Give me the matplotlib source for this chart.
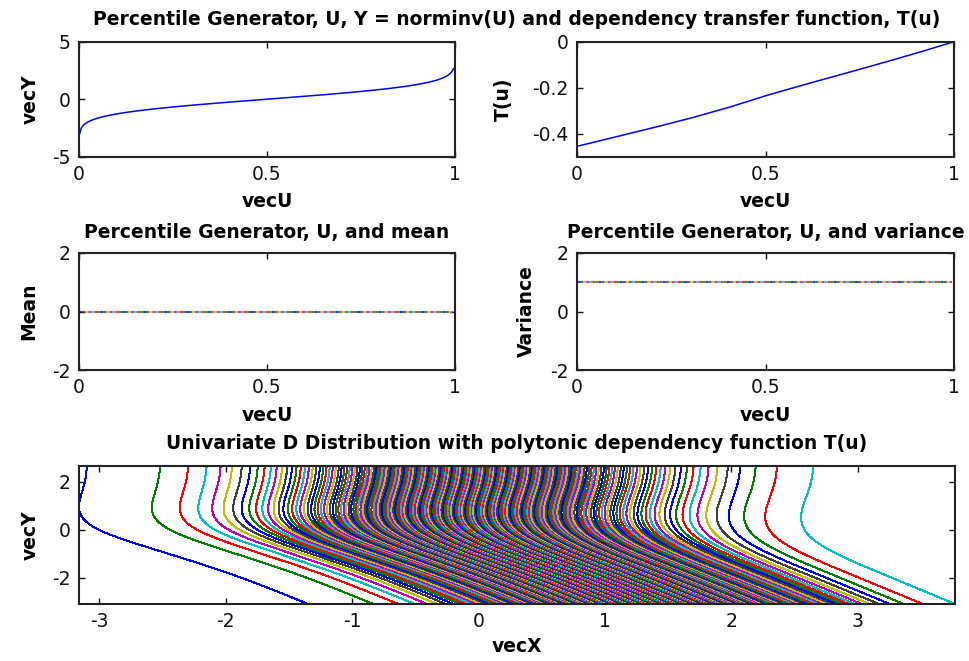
import numpy as np
import matplotlib.pyplot as plt
from statistics import NormalDist

plt.rcParams["font.family"] = "DejaVu Sans"
plt.rcParams["axes.unicode_minus"] = False
plt.rcParams["lines.scale_dashes"] = False

# percentile generator U: 0.001, 0.006, ..., 0.996 (200 levels)
u_start = 0.001
u_step = 0.005
n_levels = 200

# dependency transfer function T(u)
t_knots_u = [0.0, 0.1, 0.2, 0.3, 0.4, 0.5, 0.6, 0.7, 0.8, 0.9, 1.0]
t_knots_val = [-0.455, -0.415, -0.375, -0.333, -0.287, -0.235, -0.188, -0.143, -0.097, -0.050, 0.0]

# mean / variance of the distribution at every U
mean_level = 0.0
variance_level = 1.0

# old matlab colour order
matlab_colors = ["#0000ff", "#008000", "#ff0000", "#00bfbf", "#bf00bf", "#bfbf00", "#404040"]

vecU = u_start + u_step * np.arange(n_levels)
nd = NormalDist()
vecY = np.array([nd.inv_cdf(u) for u in vecU])
vecT = np.interp(vecU, t_knots_u, t_knots_val)

# column i = curve for percentile level i, rows follow vecY
T = vecT[:, None]
vecX = T * vecY[:, None] + np.sqrt(1 - T ** 2) * vecY[None, :]

W, H = 969, 661
fig = plt.figure(figsize=(W / 100, H / 100), dpi=100)
fig.patch.set_facecolor("white")

TS = 13.5  # title / label size
KS = 13.5  # tick label size


def box(l, t, r, b):
    return [l / W, 1 - b / H, (r - l) / W, (b - t) / H]


def style(ax):
    ax.tick_params(direction="in", top=True, right=True, length=4, width=1,
                   labelsize=KS, pad=6, colors="#111111")
    for s in ax.spines.values():
        s.set_linewidth(1.5)
        s.set_color("#222222")


def fmt(v):
    return "%g" % v


ax1 = fig.add_axes(box(79, 41.7, 455, 156.7))
ax2 = fig.add_axes(box(577, 41.7, 954, 156.7))
ax3 = fig.add_axes(box(79, 253, 455, 370))
ax4 = fig.add_axes(box(577, 253, 954, 370))
ax5 = fig.add_axes(box(79, 466, 955, 604))

# top left: Y = norminv(U)
ax1.plot(vecU, vecY, color="#0000ff", lw=1.1)
ax1.set_xlim(0, 1)
ax1.set_ylim(-5, 5)
ax1.set_xticks([0, 0.5, 1])
ax1.set_yticks([-5, 0, 5])
ax1.set_ylabel("vecY", fontweight="bold", fontsize=TS, labelpad=9)

# top right: T(u)
ax2.plot(vecU, vecT, color="#0000ff", lw=1.1)
ax2.set_xlim(0, 1)
ax2.set_ylim(-0.5, 0)
ax2.set_xticks([0, 0.5, 1])
ax2.set_yticks([-0.4, -0.2, 0])
ax2.set_ylabel("T(u)", fontweight="bold", fontsize=TS, labelpad=14)

fig.text(516.5 / W, 1 - 25 / H,
         "Percentile Generator, U, Y = norminv(U) and dependency transfer function, T(u)",
         ha="center", va="baseline", fontweight="bold", fontsize=TS)

# middle: mean and variance, one dotted line per colour so they interleave
for ax, level, lab, ttl in [(ax3, mean_level, "Mean", "Percentile Generator, U, and mean"),
                            (ax4, variance_level, "Variance", "Percentile Generator, U, and variance")]:
    vals = np.full(n_levels, level)
    for k, c in enumerate(matlab_colors):
        ax.plot(vecU, vals, color=c, lw=1.5, alpha=0.8,
                linestyle=(k * 2.2, (2.2, 2.2 * 6)))
    ax.set_xlim(0, 1)
    ax.set_ylim(-2, 2)
    ax.set_xticks([0, 0.5, 1])
    ax.set_yticks([-2, 0, 2])
    ax.set_title(ttl, fontweight="bold", fontsize=TS, pad=11)
    ax.set_ylabel(lab, fontweight="bold", fontsize=TS, labelpad=10)

# bottom: quantile curves of the D distribution
for i in range(n_levels):
    ax5.plot(vecX[:, i], vecY, color=matlab_colors[i % 7], lw=0.72, antialiased=False)
ax5.set_xlim(vecX.min(), vecX.max())
ax5.set_ylim(vecY.min(), vecY.max())
ax5.set_xticks([-3, -2, -1, 0, 1, 2, 3])
ax5.set_yticks([-2, 0, 2])
ax5.set_title("Univariate D Distribution with polytonic dependency function T(u)",
              fontweight="bold", fontsize=TS, pad=12)
ax5.set_xlabel("vecX", fontweight="bold", fontsize=TS, labelpad=4)
ax5.set_ylabel("vecY", fontweight="bold", fontsize=TS, labelpad=9)

for ax in [ax1, ax2, ax3, ax4]:
    ax.set_xlabel("vecU", fontweight="bold", fontsize=TS, labelpad=6)

for ax in [ax1, ax2, ax3, ax4, ax5]:
    style(ax)
    ax.xaxis.set_major_formatter(plt.FuncFormatter(lambda v, p: fmt(v)))
    ax.yaxis.set_major_formatter(plt.FuncFormatter(lambda v, p: fmt(v)))

fig.savefig("out.png", dpi=100, facecolor="white")
